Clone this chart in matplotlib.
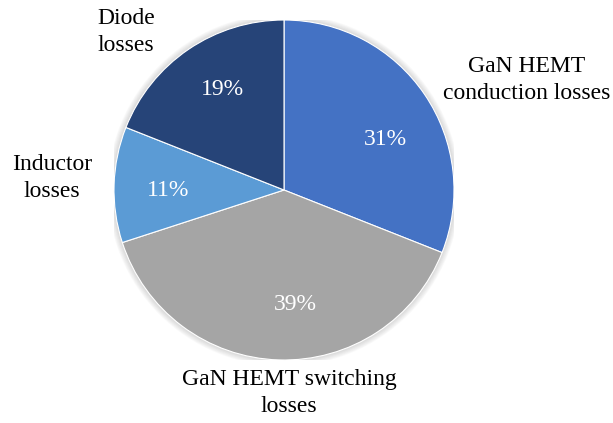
import matplotlib.pyplot as plt
from matplotlib.patches import Circle

# slice data, clockwise from 12 o'clock
labels = ["GaN HEMT\nconduction losses", "GaN HEMT switching\nlosses",
          "Inductor\nlosses", "Diode\nlosses"]
shares = [31, 39, 11, 19]
colors = ["#4472C4", "#A5A5A5", "#5B9BD5", "#264478"]

plt.rcParams["font.family"] = ["Liberation Serif", "DejaVu Serif"]

W, H = 613, 423
fig = plt.figure(figsize=(W / 100, H / 100), dpi=100)
r_px = 170
cx, cy = 284, 190   # pie centre in pixels (from top-left)
ax = fig.add_axes([(cx - r_px) / W, (H - cy - r_px) / H, 2 * r_px / W, 2 * r_px / H])

# soft shadow round the pie
for k in range(6):
    ax.add_patch(Circle((0, 0), 1 + 0.006 * (k + 1), color="0.5", alpha=0.05, lw=0, zorder=0))

wedges, texts, autotexts = ax.pie(
    shares, labels=labels, colors=colors, startangle=90, counterclock=False,
    autopct="%1.0f%%", pctdistance=0.66, radius=1,
    wedgeprops={"linewidth": 0.8, "edgecolor": "white"},
    textprops={"fontsize": 17},
)
for w in wedges:
    w.set_zorder(2)


def to_data(px, py):
    return (px - cx) / r_px, (cy - py) / r_px


# label placement (pixel positions)
label_pos = [(527, 80), (289, 393), (52, 178), (126, 32)]
for t, p in zip(texts, label_pos):
    t.set_position(to_data(*p))
    t.set_ha("center")
    t.set_va("center")
    t.set_multialignment("center")
    t.set_linespacing(1.4)

pct_pos = [(385, 139), (295, 305), (168, 190), (222, 89)]
for t, p in zip(autotexts, pct_pos):
    t.set_position(to_data(*p))
    t.set_color("white")
    t.set_fontsize(17)
    t.set_va("center")
    t.set_zorder(3)

ax.set_xlim(-1, 1)
ax.set_ylim(-1, 1)
ax.set_aspect("equal")

fig.savefig("out.png", dpi=100)
